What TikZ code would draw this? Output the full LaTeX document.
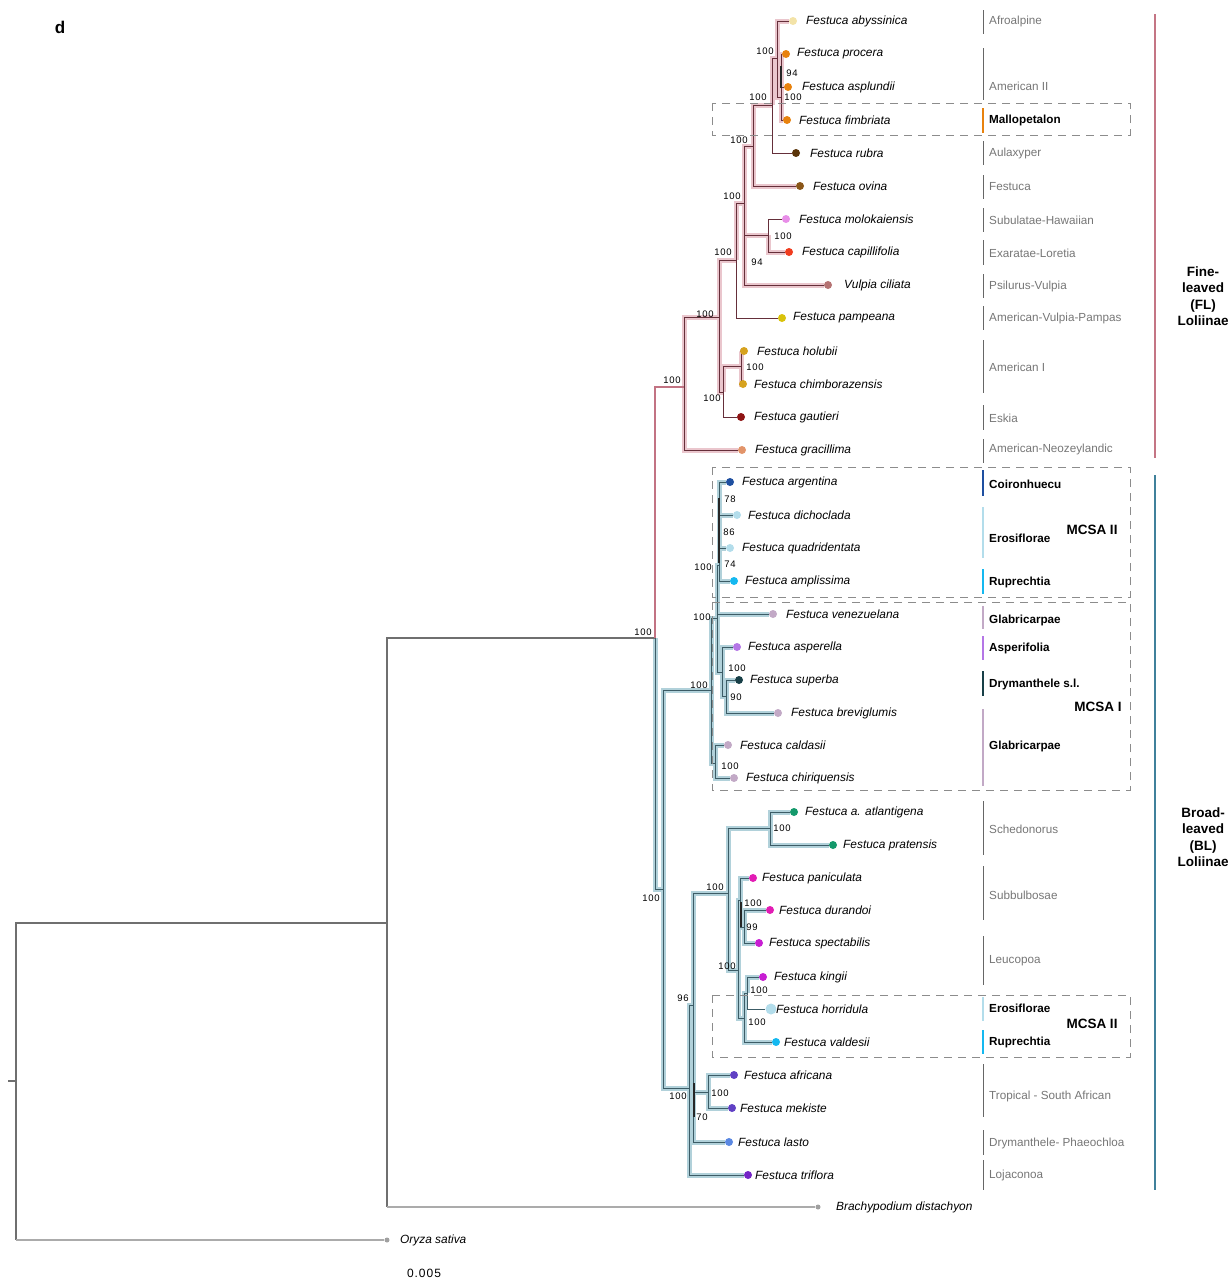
\documentclass[tikz,border=0pt]{standalone}
\usepackage{fontspec}
\setmainfont{Liberation Sans}
\newfontfamily\bsfont[LetterSpace=8]{Liberation Sans}
\usetikzlibrary{positioning}
\pgfdeclarelayer{halo}
\pgfdeclarelayer{edges}
\pgfsetlayers{halo,edges,main}
% branch colours
\definecolor{flline}{HTML}{652F3A}
\definecolor{flhalo}{HTML}{EAC6CD}
\definecolor{flstemc}{HTML}{C27383}
\definecolor{blline}{HTML}{3C5C66}
\definecolor{blhalo}{HTML}{B1D1DA}
\definecolor{outline}{HTML}{6F6F6F}
\definecolor{outtipc}{HTML}{ABABAB}
\definecolor{grouptxt}{HTML}{767676}
\definecolor{flbarc}{HTML}{C47584}
\definecolor{blbarc}{HTML}{40819B}
% tip colours
\definecolor{cAbys}{HTML}{F3E3A8}
\definecolor{cOrange}{HTML}{E8820E}
\definecolor{cRubra}{HTML}{5A3409}
\definecolor{cOvina}{HTML}{8A5618}
\definecolor{cMolo}{HTML}{E88EE8}
\definecolor{cCapi}{HTML}{F03C1E}
\definecolor{cVulp}{HTML}{B57373}
\definecolor{cPamp}{HTML}{D9C20A}
\definecolor{cGold}{HTML}{D6A21E}
\definecolor{cGaut}{HTML}{8E1414}
\definecolor{cGrac}{HTML}{E2946A}
\definecolor{cArge}{HTML}{1E4FA0}
\definecolor{cLblue}{HTML}{B3DDEB}
\definecolor{cCyan}{HTML}{14B8F0}
\definecolor{cMauve}{HTML}{C2A9C6}
\definecolor{cAspe}{HTML}{B476E6}
\definecolor{cSupe}{HTML}{173F47}
\definecolor{cGreen}{HTML}{14996B}
\definecolor{cMagenta}{HTML}{E21CB4}
\definecolor{cPurMag}{HTML}{C71ED2}
\definecolor{cIndigo}{HTML}{6040C4}
\definecolor{cLasto}{HTML}{5A88E2}
\definecolor{cTrif}{HTML}{7424C6}
\definecolor{cGray}{HTML}{A0A0A0}
\tikzset{
  tipdot/.style={circle, fill=#1, inner sep=0pt},
  sp/.style={anchor=west, inner sep=0pt, font=\fontsize{11.9}{13}\selectfont\itshape},
  bs/.style={inner sep=0pt, font=\bsfont\fontsize{9.5}{11}\selectfont},
  grp/.style={anchor=west, inner sep=0pt, text=grouptxt, font=\fontsize{11.7}{13}\selectfont},
  grpbold/.style={anchor=west, inner sep=0pt, font=\fontsize{11.7}{13}\selectfont\bfseries},
  clade/.style={align=center, inner sep=0pt, font=\fontsize{13.5}{16.4}\selectfont\bfseries},
  panel/.style={inner sep=0pt, font=\fontsize{17}{20}\selectfont\bfseries},
  flbranch/.style={draw=flline, line width=1pt},
  flglow/.style={draw=flhalo, line width=5pt},
  flstem/.style={draw=flstemc, line width=1.2pt},
  blbranch/.style={draw=blline, line width=1pt},
  blglow/.style={draw=blhalo, line width=5pt},
  outbranch/.style={draw=outline, line width=1.2pt},
  outtip/.style={draw=outtipc, line width=2pt},
  darkbit/.style={draw=black!85, line width=1.5pt},
  grpbar/.style={draw=black!60, line width=1pt},
  colbar/.style={draw=#1, line width=2.6pt},
  cladebox/.style={draw=black!45, line width=1pt, dash pattern=on 8pt off 6pt},
}

\begin{document}
\begin{tikzpicture}[x=1pt, y=-1pt]
  \useasboundingbox (0,0) rectangle (1230,1282);
  \node[panel] (panel) at (60,27) {d};

  % internal nodes
  \coordinate (rstub) at (8,1081);
  \coordinate (r0) at (16,1081);
  \coordinate (nA) at (387,923);
  \coordinate (nLol) at (655,638);
  \coordinate (nFL) at (684,387);
  \coordinate (f1) at (719,317);
  \coordinate (f2) at (736,260);
  \coordinate (f3) at (744,203);
  \coordinate (f4) at (753,146);
  \coordinate (f5) at (772,105);
  \coordinate (f6) at (777,58);
  \coordinate (f6b) at (781,97);
  \coordinate (f7) at (768,235);
  \coordinate (f8) at (723,392);
  \coordinate (f9) at (741,366);
  \coordinate (nBL) at (663,889);
  \coordinate (b1) at (711,690);
  \coordinate (b2) at (717,618);
  \coordinate (b3) at (719,565);
  \coordinate (b4) at (722,672);
  \coordinate (b5) at (726,696);
  \coordinate (b6) at (715,763);
  \coordinate (b10) at (689,1088);
  \coordinate (b11) at (693,1005);
  \coordinate (b12) at (728,893);
  \coordinate (b13) at (770,828);
  \coordinate (b14) at (738,970);
  \coordinate (b15) at (740,900);
  \coordinate (b16) at (744,927);
  \coordinate (b17) at (744,1018);
  \coordinate (b18) at (747,993);
  \coordinate (b20) at (708,1092);

  % tips
  \foreach \id/\x/\y/\col/\sz/\lx/\txt in {
    abys/793/21/cAbys/8/806/Festuca abyssinica,
    proc/786/54/cOrange/8/797/Festuca procera,
    aspl/788/87/cOrange/8/802/Festuca asplundii,
    fimb/787/120/cOrange/8/799/Festuca fimbriata,
    rubr/796/153/cRubra/8/810/Festuca rubra,
    ovin/800/186/cOvina/8/813/Festuca ovina,
    molo/786/219/cMolo/8/799/Festuca molokaiensis,
    capi/789/252/cCapi/8/802/Festuca capillifolia,
    vulp/828/285/cVulp/8/844/Vulpia ciliata,
    pamp/782/318/cPamp/8/793/Festuca pampeana,
    holu/744/351/cGold/8/757/Festuca holubii,
    chim/743/384/cGold/8/754/Festuca chimborazensis,
    gaut/741/417/cGaut/8/754/Festuca gautieri,
    grac/742/450/cGrac/8/755/Festuca gracillima,
    arge/730/482/cArge/8/742/Festuca argentina,
    dich/737/515/cLblue/8/748/Festuca dichoclada,
    quad/730/548/cLblue/8/742/Festuca quadridentata,
    ampl/734/581/cCyan/8/745/Festuca amplissima,
    vene/773/614/cMauve/8/786/Festuca venezuelana,
    aspe/737/647/cAspe/8/748/Festuca asperella,
    supe/739/680/cSupe/8/750/Festuca superba,
    brev/778/713/cMauve/8/791/Festuca breviglumis,
    cald/728/745/cMauve/8/740/Festuca caldasii,
    chir/734/778/cMauve/8/746/Festuca chiriquensis,
    atla/794/812/cGreen/8/805/Festuca a. atlantigena,
    prat/833/845/cGreen/8/843/Festuca pratensis,
    pani/753/878/cMagenta/8/762/Festuca paniculata,
    dura/770/910/cMagenta/8/779/Festuca durandoi,
    spec/759/943/cPurMag/8/769/Festuca spectabilis,
    king/763/977/cPurMag/8/774/Festuca kingii,
    horr/771/1009/cLblue/11/776/Festuca horridula,
    vald/776/1042/cCyan/8/784/Festuca valdesii,
    afri/734/1075/cIndigo/8/744/Festuca africana,
    meki/732/1108/cIndigo/8/740/Festuca mekiste,
    last/729/1142/cLasto/8/738/Festuca lasto,
    trif/748/1175/cTrif/8/755/Festuca triflora,
    brac/818/1207/cGray/5/836/Brachypodium distachyon,
    oryz/387/1240/cGray/5/400/Oryza sativa} {
    \node[tipdot=\col, minimum size=\sz pt] (\id) at (\x,\y) {};
    \node[sp] (\id-lab) at (\lx,\y) {\txt};
  }

  % outgroups
  \begin{pgfonlayer}{edges}
    \draw[outbranch] (rstub) -- (r0);
    \draw[outbranch] (r0) |- (nA);
    \draw[outbranch] (r0) -- (r0 |- oryz);
    \draw[outtip] (r0 |- oryz) -- (oryz);
    \draw[outbranch] (nA) |- (nLol);
    \draw[outbranch] (nA) -- (nA |- brac);
    \draw[outtip] (nA |- brac) -- (brac);
    \draw[flstem] (nLol) |- (nFL);
  \end{pgfonlayer}

  % fine-leaved clade
  \foreach \p/\c in {nFL/f1, nFL/grac, f1/f2, f1/f8, f8/f9, f9/holu, f9/chim,
      f2/f3, f3/f4, f3/f7, f3/vulp, f7/capi, f4/f5, f4/ovin, f5/f6,
      f6/abys, f6/f6b, f6b/proc, f6b/aspl, f6b/fimb} {
    \begin{pgfonlayer}{halo}\draw[flglow] (\p) |- (\c);\end{pgfonlayer}
    \begin{pgfonlayer}{edges}\draw[flbranch] (\p) |- (\c);\end{pgfonlayer}
  }
  \foreach \p/\c in {f8/gaut, f2/pamp, f7/molo, f5/rubr} {
    \begin{pgfonlayer}{edges}\draw[flbranch] (\p) |- (\c);\end{pgfonlayer}
  }

  % broad-leaved clade
  \foreach \p/\c in {nLol/nBL, nBL/b1, nBL/b10, b1/b2, b1/b6, b2/b3, b2/vene, b2/b4,
      b3/arge, b3/dich, b3/quad, b3/ampl, b4/aspe, b4/b5, b5/supe, b5/brev,
      b6/cald, b6/chir, b10/b11, b10/trif, b11/b12, b11/b20, b11/last,
      b20/afri, b20/meki, b12/b13, b12/b14, b13/atla, b13/prat, b14/b15,
      b14/b17, b15/pani, b15/b16, b16/dura, b16/spec, b17/b18, b17/vald,
      b18/king} {
    \begin{pgfonlayer}{halo}\draw[blglow] (\p) |- (\c);\end{pgfonlayer}
    \begin{pgfonlayer}{edges}\draw[blbranch] (\p) |- (\c);\end{pgfonlayer}
  }
  \begin{pgfonlayer}{edges}
    \draw[blbranch] (b18) |- (horr);
    \draw[darkbit] (719,498) -- (719,563);
    \draw[darkbit] (694,1083) -- (694,1117);
    \draw[darkbit] (741,902) -- (741,927);
    \draw[darkbit] (781,66) -- (781,88);
  \end{pgfonlayer}

  % bootstrap values
  \foreach \x/\y/\v [count=\i] in {765/51/100, 792/73/94, 793/97/100, 758/97/100,
      739/140/100, 732/196/100, 783/236/100, 757/262/94, 723/252/100,
      705/314/100, 672/380/100, 755/367/100, 712/398/100, 643/632/100,
      730/499/78, 729/532/86, 730/564/74, 703/567/100, 702/617/100,
      737/668/100, 699/685/100, 736/697/90, 730/766/100, 782/828/100,
      715/887/100, 651/898/100, 753/903/100, 752/927/99, 727/966/100,
      683/998/96, 759/990/100, 757/1022/100, 720/1093/100, 678/1096/100,
      702/1117/70} {
    \node[bs] (bs\i) at (\x,\y) {\v};
  }

  % clade boxes
  \draw[cladebox] (712,103) rectangle (1130,135);
  \draw[cladebox] (712,467) rectangle (1130,597);
  \draw[cladebox] (712,602) rectangle (1130,790);
  \draw[cladebox] (712,995) rectangle (1130,1057);

  % lineages
  \foreach \ya/\yb/\yl/\txt [count=\i] in {10/34/21/Afroalpine, 48/100/86/American II,
      141/165/153/Aulaxyper, 175/199/187/Festuca, 208/232/220/Subulatae-Hawaiian,
      240/265/253/Exaratae-Loretia, 274/298/286/Psilurus-Vulpia,
      306/330/318/American-Vulpia-Pampas, 340/393/367/American I,
      405/430/418/Eskia, 439/463/449/American-Neozeylandic,
      801/855/829/Schedonorus, 866/920/895/Subbulbosae, 936/985/961/Leucopoa,
      1064/1117/1096/Tropical - South African,
      1130/1155/1143/Drymanthele- Phaeochloa, 1160/1190/1175/Lojaconoa} {
    \draw[grpbar] (983,\ya) -- (983,\yb);
    \node[grp] (grp\i) at (989,\yl) {\txt};
  }
  \foreach \ya/\yb/\yl/\col/\txt [count=\i] in {108/133/120/cOrange/Mallopetalon,
      470/496/484/cArge/Coironhuecu, 507/558/538/cLblue/Erosiflorae,
      569/594/582/cCyan/Ruprechtia, 606/629/620/cMauve/Glabricarpae,
      636/660/648/cAspe/Asperifolia, 671/696/684/cSupe/Drymanthele s.l.,
      709/786/746/cMauve/Glabricarpae, 997/1021/1008/cLblue/Erosiflorae,
      1030/1054/1042/cCyan/Ruprechtia} {
    \draw[colbar=\col] (983,\ya) -- (983,\yb);
    \node[grpbold] (sect\i) at (989,\yl) {\txt};
  }
  \node[clade] (mcsa1) at (1092,530) {MCSA II};
  \node[clade] (mcsa2) at (1098,707) {MCSA I};
  \node[clade] (mcsa3) at (1092,1024) {MCSA II};

  % subtribe bars
  \draw[draw=flbarc, line width=1.1pt] (1155,14) -- (1155,458);
  \draw[draw=blbarc, line width=1.1pt] (1155,475) -- (1155,1190);
  \node[clade] (flclade) at (1203,296) {Fine-\\leaved\\(FL)\\Loliinae};
  \node[clade] (blclade) at (1203,837) {Broad-\\leaved\\(BL)\\Loliinae};

  \node[bs, font=\bsfont\fontsize{12}{14}\selectfont] (scale) at (424,1273) {0.005};
\end{tikzpicture}
\end{document}
